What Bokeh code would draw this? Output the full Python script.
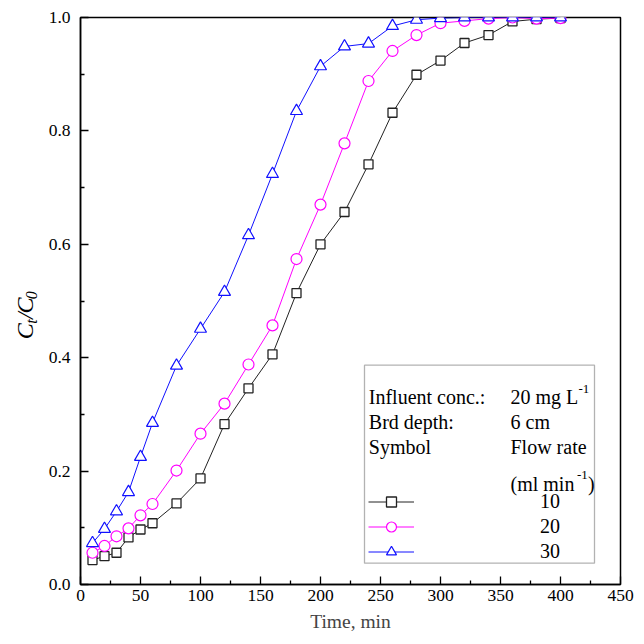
import math
from bokeh.plotting import figure
from bokeh.layouts import row
from bokeh.models import (FixedTicker, NumeralTickFormatter, Label, BoxAnnotation,
                          Legend, LegendItem, Range1d)
from bokeh.embed import file_html
from bokeh.resources import INLINE

# ---- data ----
time_min = [10, 20, 30, 40, 50, 60, 80, 100, 120, 140, 160, 180, 200, 220, 240,
            260, 280, 300, 320, 340, 360, 380, 400]
flow_10 = [0.043, 0.050, 0.056, 0.083, 0.097, 0.108, 0.143, 0.187, 0.283, 0.346,
           0.406, 0.514, 0.600, 0.657, 0.741, 0.832, 0.899, 0.924, 0.955, 0.969,
           0.993, 0.997, 0.999]
flow_20 = [0.056, 0.068, 0.085, 0.099, 0.122, 0.142, 0.201, 0.266, 0.319, 0.388,
           0.457, 0.574, 0.670, 0.778, 0.888, 0.941, 0.969, 0.990, 0.994, 0.998,
           1.000, 0.998, 0.999]
flow_30 = [0.073, 0.098, 0.129, 0.163, 0.225, 0.285, 0.386, 0.451, 0.516, 0.616,
           0.724, 0.835, 0.914, 0.949, 0.954, 0.985, 0.996, 0.999, 1.000, 1.000,
           1.000, 1.000, 1.000]
series_labels = ["10", "20", "30"]
x_ticks = [0, 50, 100, 150, 200, 250, 300, 350, 400, 450]
y_ticks = [0.0, 0.2, 0.4, 0.6, 0.8, 1.0]

FONT = "Liberation Serif"
SIDE_W = 44
TOTAL_H = 636

p = figure(frame_width=540, frame_height=567, min_border_left=80 - SIDE_W,
           min_border_right=16, min_border_top=17, min_border_bottom=52,
           x_range=Range1d(0, 450), y_range=Range1d(0, 1.0),
           output_backend="svg", toolbar_location=None)

p.xgrid.visible = False
p.ygrid.visible = False
p.outline_line_color = "black"
p.outline_line_width = 1.5

p.xaxis.ticker = FixedTicker(ticks=x_ticks, minor_ticks=[25 + 50 * i for i in range(9)])
p.yaxis.ticker = FixedTicker(ticks=y_ticks, minor_ticks=[0.1, 0.3, 0.5, 0.7, 0.9])
p.yaxis.formatter = NumeralTickFormatter(format="0.0")
for ax in (p.xaxis, p.yaxis):
    ax.axis_line_width = 1.5
    ax.axis_line_color = "black"
    ax.major_tick_in = 8
    ax.major_tick_out = 0
    ax.minor_tick_in = 4
    ax.minor_tick_out = 0
    ax.major_tick_line_color = "black"
    ax.minor_tick_line_color = "black"
    ax.major_tick_line_width = 1.3
    ax.minor_tick_line_width = 1.3
    ax.major_label_text_font = FONT
    ax.major_label_text_font_size = "17.5px"
    ax.major_label_text_color = "black"
p.xaxis.major_label_standoff = 5
p.yaxis.major_label_standoff = 10
p.xaxis.axis_label = "Time, min"
p.xaxis.axis_label_text_font = FONT
p.xaxis.axis_label_text_font_style = "normal"
p.xaxis.axis_label_text_font_size = "19.5px"
p.xaxis.axis_label_standoff = 7

r1l = p.line(time_min, flow_10, line_color="#222222", line_width=1)
r1m = p.scatter(time_min, flow_10, marker="square", size=9, line_color="#222222",
                line_width=1.3, fill_color="white")
r2l = p.line(time_min, flow_20, line_color="#FF00FF", line_width=1)
r2m = p.scatter(time_min, flow_20, marker="circle", size=11, line_color="#FF00FF",
                line_width=1.2, fill_color="white")
r3l = p.line(time_min, flow_30, line_color="#1010FF", line_width=1)
r3m = p.scatter(time_min, flow_30, marker="triangle", size=12, line_color="#1010FF",
                line_width=1.2, fill_color="white")


def dx(px):
    return (px - 80) / 1.2


def dy(py):
    return (584 - py) / 567


# ---- legend box ----
p.add_layout(BoxAnnotation(left=dx(364), right=dx(594), top=dy(364.7), bottom=dy(562.7),
                           fill_alpha=0, line_color="black", line_width=1.3))

header = [("Influent conc.:", 368.3, 396.7, "20px"), ("20 mg L", 510, 396.7, "20px"),
          ("-1", 578, 388, "13px"),
          ("Brd depth:", 368.3, 421.5, "20px"), ("6 cm", 510, 421.5, "20px"),
          ("Symbol", 368.3, 446, "20px"), ("Flow rate", 510, 446, "20px"),
          ("(ml min", 510, 483, "20px"), ("-1", 576.5, 474.5, "13px"),
          (")", 587.5, 483, "20px")]
for txt, px, py, fs in header:
    p.add_layout(Label(x=dx(px), y=dy(py), text=txt, text_font=FONT, text_font_size=fs,
                       text_align="left", text_baseline="alphabetic", text_color="black"))

legend = Legend(items=[LegendItem(label=series_labels[0], renderers=[r1l, r1m]),
                       LegendItem(label=series_labels[1], renderers=[r2l, r2m]),
                       LegendItem(label=series_labels[2], renderers=[r3l, r3m])],
                location=(288, 19.8), orientation="vertical",
                glyph_width=46, glyph_height=25, label_height=25, spacing=0,
                label_standoff=126, padding=0, margin=0,
                border_line_alpha=0, background_fill_alpha=0,
                label_text_font=FONT, label_text_font_size="20px",
                label_text_color="black")
p.add_layout(legend, "center")

# ---- side strip holding the rotated y-axis title C_t/C_0 ----
side = figure(width=SIDE_W, height=TOTAL_H, min_border=0,
              x_range=Range1d(0, SIDE_W), y_range=Range1d(0, TOTAL_H),
              output_backend="svg", toolbar_location=None)
side.axis.visible = False
side.grid.visible = False
side.outline_line_color = None

# (text, centre y on page, centre x on page, font size)
ypieces = [("C", 352, 24.5, "24px"), ("t", 341, 30.5, "16px"), ("/", 334.5, 24.5, "24px"),
           ("C", 323, 24.5, "24px"), ("0", 311.5, 30.5, "16px")]
for txt, py, px, fs in ypieces:
    side.add_layout(Label(x=px, y=TOTAL_H - py, text=txt, angle=math.pi / 2,
                          text_font=FONT, text_font_style="italic", text_font_size=fs,
                          text_align="center", text_baseline="middle",
                          text_color="black"))

layout = row(side, p, spacing=0)
open("out.html", "w").write(file_html(layout, INLINE))
